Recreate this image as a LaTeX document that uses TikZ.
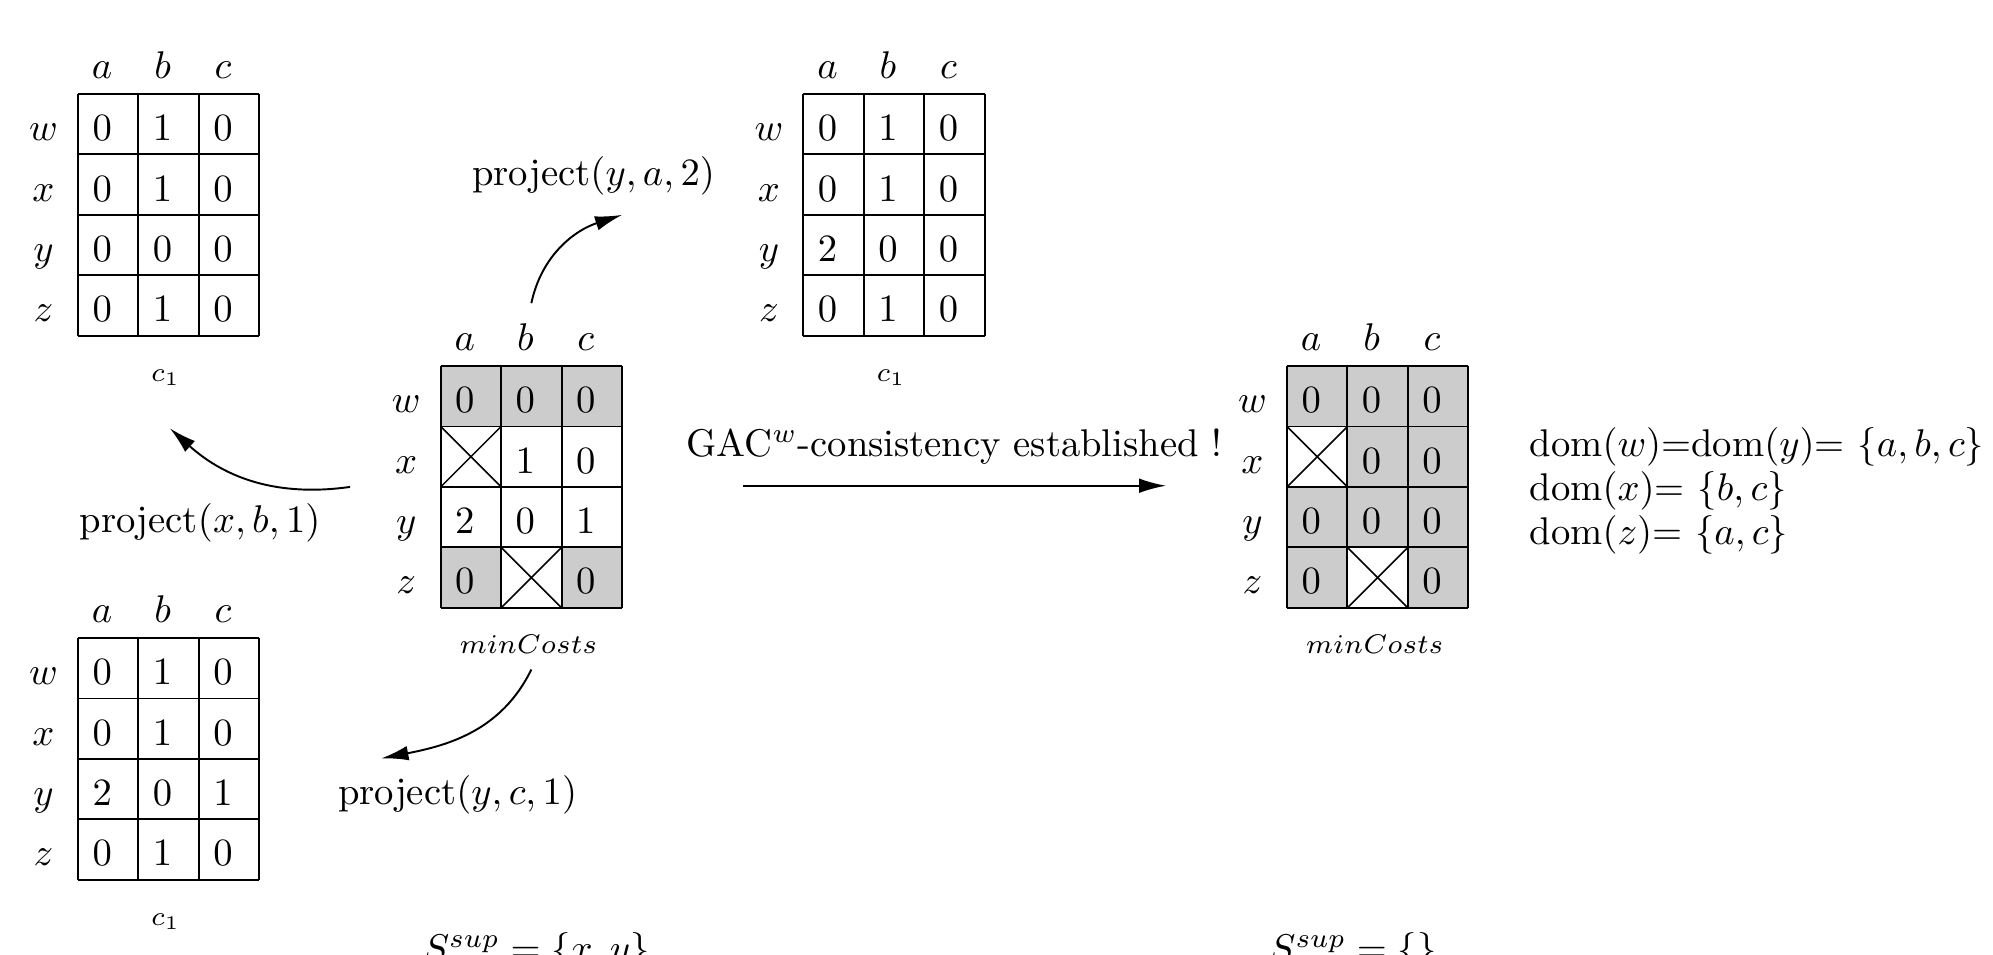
\documentclass[tikz,border=0pt]{standalone}
\usetikzlibrary{arrows.meta}
\tikzset{
  tbl/.style={line width=0.5pt},
  lbl/.style={anchor=base,inner sep=0pt},
  capt/.style={font=\fontsize{7.4}{9}\selectfont},
  greycell/.style={fill=black!20},
  prj/.style={-{Latex[length=7pt,width=3.8pt]},line width=0.5pt},
}
% grid, column/row labels and caption of one table: name, x, y, caption
\newcommand{\costtable}[4]{%
  \foreach \ci in {0,...,3} \draw[tbl] (#2+\ci,#3) -- (#2+\ci,#3-4);
  \foreach \rj in {0,...,4} \draw[tbl] (#2,#3-\rj) -- (#2+3,#3-\rj);
  \foreach \cl [count=\ci from 0] in {a,b,c}
    \node[lbl] (#1-\cl) at (#2+\ci+0.4,#3+0.25) {$\cl$};
  \foreach \rw [count=\rj from 0] in {w,x,y,z}
    \node[lbl] (#1-\rw) at (#2-0.57,#3-\rj-0.77) {$\rw$};
  \node[lbl,capt] (#1-cap) at (#2+1.45,#3-4.76) {$#4$};
}
% cell values: name, x, y, list of col/row/value
\newcommand{\costvals}[4]{%
  \foreach \ci/\rj/\val in {#4}
    \node[lbl] (#1-\ci-\rj) at (#2+\ci+0.4,#3-\rj-0.77) {$\val$};
}
% crossed out cell: x, y, col, row
\newcommand{\crosscell}[4]{%
  \draw[line width=0.4pt] (#1+#3,#2-#4) -- ++(1,-1) ++(-1,0) -- ++(1,1);
}
\begin{document}
\begin{tikzpicture}[x=0.55cm,y=0.55cm]
\useasboundingbox (-1.29,1.555) rectangle (31.68,-14.23);
% grey cells of the two minCosts tables
\foreach \ci/\rj in {0/0,1/0,2/0,0/3,2/3}
  \fill[greycell] (6+\ci,-4.5-\rj) rectangle ++(1,-1);
\foreach \ci/\rj in {0/0,1/0,2/0,1/1,2/1,0/2,1/2,2/2,0/3,2/3}
  \fill[greycell] (20+\ci,-4.5-\rj) rectangle ++(1,-1);
% tables
\costtable{c1a}{0}{0}{c_1}
\costtable{c1b}{12}{0}{c_1}
\costtable{c1c}{0}{-9}{c_1}
\costtable{mca}{6}{-4.5}{minCosts}
\costtable{mcb}{20}{-4.5}{minCosts}
\costvals{c1a}{0}{0}{0/0/0,1/0/1,2/0/0,0/1/0,1/1/1,2/1/0,0/2/0,1/2/0,2/2/0,0/3/0,1/3/1,2/3/0}
\costvals{c1b}{12}{0}{0/0/0,1/0/1,2/0/0,0/1/0,1/1/1,2/1/0,0/2/2,1/2/0,2/2/0,0/3/0,1/3/1,2/3/0}
\costvals{c1c}{0}{-9}{0/0/0,1/0/1,2/0/0,0/1/0,1/1/1,2/1/0,0/2/2,1/2/0,2/2/1,0/3/0,1/3/1,2/3/0}
\costvals{mca}{6}{-4.5}{0/0/0,1/0/0,2/0/0,1/1/1,2/1/0,0/2/2,1/2/0,2/2/1,0/3/0,2/3/0}
\costvals{mcb}{20}{-4.5}{0/0/0,1/0/0,2/0/0,1/1/0,2/1/0,0/2/0,1/2/0,2/2/0,0/3/0,2/3/0}
\crosscell{6}{-4.5}{0}{1}
\crosscell{6}{-4.5}{1}{3}
\crosscell{20}{-4.5}{0}{1}
\crosscell{20}{-4.5}{1}{3}
% projections
\node[lbl] (prj-ya) at (8.53,-1.52) {project$(y,a,2)$};
\node[lbl] (prj-xb) at (2.02,-7.25) {project$(x,b,1)$};
\node[lbl] (prj-yc) at (6.28,-11.76) {project$(y,c,1)$};
\coordinate (ya-from) at (7.5,-3.46);
\coordinate (ya-to) at (9,-2);
\coordinate (xb-from) at (4.5,-6.5);
\coordinate (xb-to) at (1.52,-5.53);
\coordinate (yc-from) at (7.5,-9.52);
\coordinate (yc-to) at (5.02,-10.99);
\draw[prj] (ya-from) to[out=78,in=198] (ya-to);
\draw[prj] (xb-from) to[out=188,in=-42] (xb-to);
\draw[prj] (yc-from) to[out=244,in=11] (yc-to);
% GAC step
\node[lbl] (gac) at (14.5,-6.0) {GAC$^w$-consistency established !};
\coordinate (gac-from) at (11,-6.48);
\coordinate (gac-to) at (18,-6.48);
\draw[prj] (gac-from) -- (gac-to);
\node[lbl,anchor=base west] (dom-w) at (24,-6.0) {dom$(w)$=dom$(y)$= $\{a,b,c\}$};
\node[lbl,anchor=base west] (dom-x) at (24,-6.73) {dom$(x)$= $\{b,c\}$};
\node[lbl,anchor=base west] (dom-z) at (24,-7.46) {dom$(z)$= $\{a,c\}$};
% supports
\node[lbl,anchor=base west] (sup-a) at (5.7,-14.35) {$S^{sup}=\{x,y\}$};
\node[lbl,anchor=base west] (sup-b) at (19.7,-14.35) {$S^{sup}=\{\}$};
\end{tikzpicture}
\end{document}
